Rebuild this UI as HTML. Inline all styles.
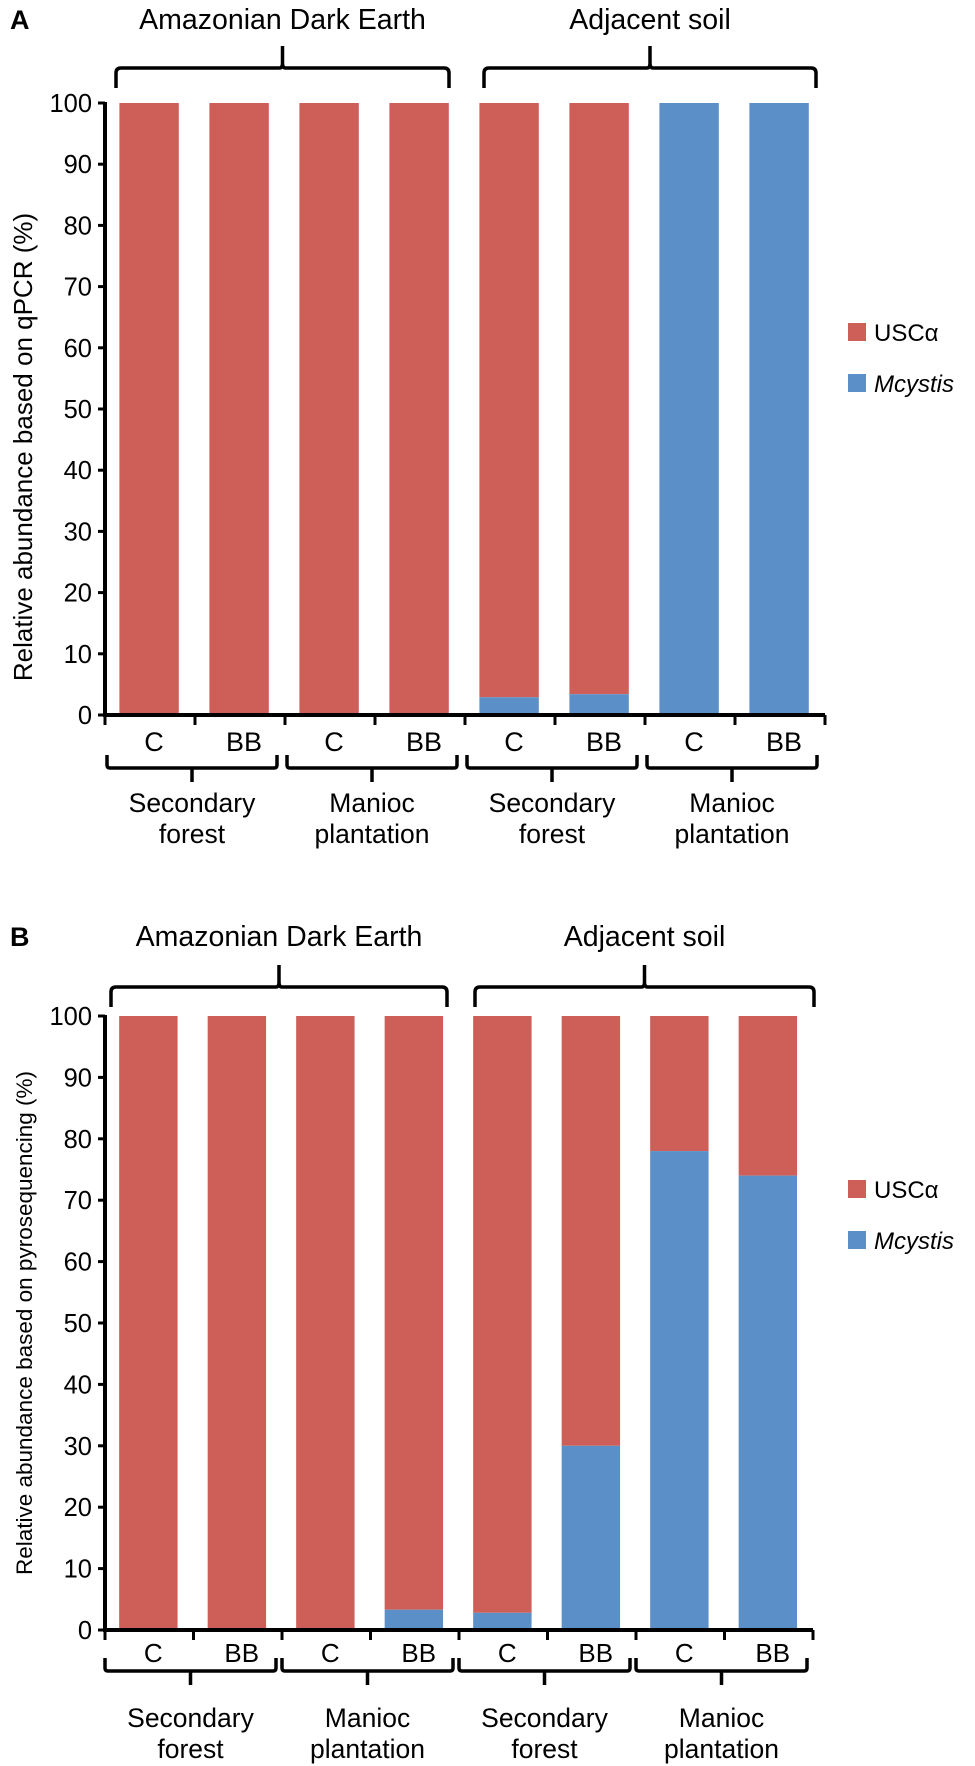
<!DOCTYPE html>
<html><head><meta charset="utf-8">
<style>
html,body{margin:0;padding:0;background:#fff;}
svg{display:block;font-family:"Liberation Sans",Arial,sans-serif;}
</style></head>
<body>
<svg id="fig" width="975" height="1766" viewBox="0 0 975 1766" xmlns="http://www.w3.org/2000/svg"></svg>
<script>
const categories = ["C","BB","C","BB","C","BB","C","BB"];
const habitats = ["Secondary forest","Manioc plantation","Secondary forest","Manioc plantation"];
const soils = ["Amazonian Dark Earth","Adjacent soil"];
const yTicks = [0,10,20,30,40,50,60,70,80,90,100];
const mcystisA = [0,0,0,0,2.9,3.4,100,100];
const mcystisB = [0,0,0,3.3,2.8,30,78,74];
const RED="#CD5F58", BLUE="#5B8FC8";
const NS="http://www.w3.org/2000/svg";
const svg=document.getElementById('fig');
function el(tag,attrs,parent,text){const e=document.createElementNS(NS,tag);for(const k in attrs)e.setAttribute(k,attrs[k]);if(text!==undefined)e.textContent=text;(parent||svg).appendChild(e);return e;}

function panel(cfg){
  const g=el('g',{});
  
  
  const step=(cfg.x1-cfg.x0)/categories.length;
  const bx=i=>cfg.x0+i*step;
  const bw=step*0.66;
  const y=v=>cfg.y0-(cfg.y0-cfg.y100)*v/100;
  const L=el('text',{x:10,y:cfg.letterY,'font-size':27,'font-weight':'bold'},g,cfg.letter);
  
  
  cfg.vals.forEach((m,i)=>{
    const x=bx(i)+step*0.16;
    const r=el('rect',{x:x,y:y(100),width:bw,height:y(m)-y(100),fill:RED},g);
    
    
    const b=el('rect',{x:x,y:y(m),width:bw,height:y(0)-y(m),fill:BLUE},g);
    
    
  });
  const ax=el('path',{d:`M${cfg.x0} ${y(100)-1}V${cfg.y0}H${cfg.x1}`,stroke:'#000','stroke-width':4,fill:'none'},g);
  
  
  yTicks.forEach(t=>{
    el('line',{x1:cfg.x0-7,x2:cfg.x0,y1:y(t),y2:y(t),stroke:'#000','stroke-width':3},g);
    const tl=el('text',{x:cfg.x0-13,y:y(t)+9,'font-size':25.5,'text-anchor':'end'},g,t);
    
    
  });
  for(let i=0;i<=categories.length;i++){
    el('line',{x1:bx(i),x2:bx(i),y1:cfg.y0,y2:cfg.y0+10,stroke:'#000','stroke-width':3},g);
  }
  categories.forEach((c,i)=>{
    const t=el('text',{x:bx(i)+step/2+4,y:cfg.y0+cfg.cl,'font-size':cfg.cf,'text-anchor':'middle'},g,c);
    
    
  });
  habitats.forEach((h,k)=>{
    const a=bx(2*k)+cfg.bi, b=bx(2*k+2)-cfg.bi-6, m=(a+b)/2, t=cfg.y0+cfg.bt, hy=t+13;
    el('path',{d:`M${a} ${t}V${hy-3}Q${a} ${hy} ${a+3} ${hy}H${b-3}Q${b} ${hy} ${b} ${hy-3}V${t}M${m} ${hy}V${hy+14}`,stroke:'#000','stroke-width':3.5,fill:'none'},g);
    const parts=h.split(' ');
    const t1=el('text',{x:m,y:cfg.y0+cfg.gl,'font-size':26.5,'text-anchor':'middle'},g,parts[0]);
    
    
    el('text',{x:m,y:cfg.y0+cfg.gl+31,'font-size':26.5,'text-anchor':'middle'},g,parts[1]);
  });
  soils.forEach((s,k)=>{
    const a=cfg.tb[k][0], b=cfg.tb[k][1], m=(a+b)/2, hy=cfg.topY;
    el('path',{d:`M${a} ${hy+20}V${hy+5}Q${a} ${hy} ${a+5} ${hy}H${m-3}Q${m} ${hy} ${m} ${hy-5}V${hy-22}M${m} ${hy-5}Q${m} ${hy} ${m+3} ${hy}H${b-5}Q${b} ${hy} ${b} ${hy+5}V${hy+20}`,stroke:'#000','stroke-width':3.5,fill:'none'},g);
    const st=el('text',{x:m,y:cfg.titleY,'font-size':28.5,'text-anchor':'middle'},g,s);
    
    
  });
  const yt=el('text',{x:0,y:0,'font-size':cfg.yf,'text-anchor':'middle',transform:`translate(32 ${cfg.yc}) rotate(-90)`},g,cfg.ytitle);
  
  
  const items=[["USC\u03b1",RED,false],["Mcystis",BLUE,true]];
  items.forEach((it,k)=>{
    const ly=cfg.legY+k*51;
    const sq=el('rect',{x:848,y:ly-9,width:18,height:18,fill:it[1]},g);
    
    
    const lt=el('text',{x:874,y:ly+9,'font-size':24,'font-style':it[2]?'italic':'normal'},g,it[0]);
    
    
  });
}
panel({name:'panel-a-qpcr',letter:'A',letterY:29,vals:mcystisA,x0:105,x1:825,y0:715,y100:103,
  ytitle:'Relative abundance based on qPCR (%)',yf:26,yc:447,cf:27,cl:36,bi:2,bt:40,gl:97,topY:68,titleY:29,tb:[[116,449],[484,816]],legY:332});
panel({name:'panel-b-pyroseq',letter:'B',letterY:946,vals:mcystisB,x0:105,x1:813,y0:1630,y100:1016,
  ytitle:'Relative abundance based on pyrosequencing (%)',yf:22.5,yc:1323,cf:26,cl:32,bi:0,bt:28,gl:97,topY:987,titleY:946,tb:[[111,447],[475,814]],legY:1189});
</script>
</body></html>
